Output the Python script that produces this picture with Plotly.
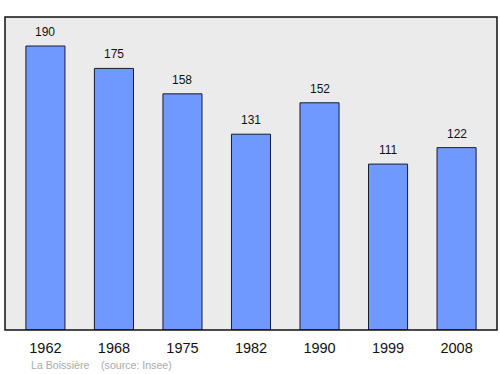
import plotly.graph_objects as go

years = ["1962", "1968", "1975", "1982", "1990", "1999", "2008"]
population = [190, 175, 158, 131, 152, 111, 122]
footer = "La Boissière    (source: Insee)"

fig = go.Figure()
fig.add_trace(go.Bar(
    x=years, y=population, width=0.57,
    marker=dict(color="#7099ff", line=dict(color="#1a1a2e", width=1)),
    hoverinfo="skip",
))
for i, v in enumerate(population):
    fig.add_annotation(x=i, y=v, text=str(v), showarrow=False, yanchor="bottom",
                       yshift=5, font=dict(family="Liberation Sans, Arial", size=12, color="#111"))

fig.add_annotation(x=0.049, y=-0.112, xref="paper", yref="paper", xanchor="left", yanchor="middle",
                   text=footer, showarrow=False,
                   font=dict(family="Liberation Sans, Arial", size=10.6, color="#aaaaaa"))

fig.add_shape(type="rect", xref="paper", yref="paper", x0=0, y0=0, x1=1, y1=1,
              line=dict(color="#111", width=1.5), layer="above")

fig.update_layout(
    width=500, height=374,
    margin=dict(l=5, r=3, t=17, b=44),
    paper_bgcolor="white", plot_bgcolor="#ebebeb",
    showlegend=False,
    xaxis=dict(type="category", range=[-0.59, 6.59], showgrid=False, zeroline=False, ticks="",
               ticklabelstandoff=7,
               tickfont=dict(family="Liberation Sans, Arial", size=14.5, color="#111")),
    yaxis=dict(range=[0, 209.4], showgrid=False, zeroline=False, showticklabels=False, ticks=""),
)
fig.write_html("out.html")
